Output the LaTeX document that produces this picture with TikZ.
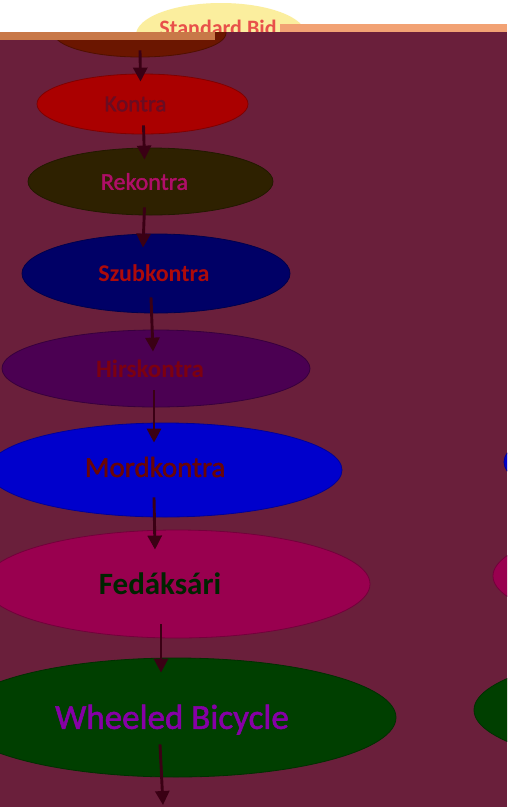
\documentclass[tikz,border=0pt]{standalone}
\usepackage{fontspec}
\setmainfont{Carlito}
\newfontfamily\semibold{Carlito}[FakeBold=1.6]
\usetikzlibrary{arrows.meta, shapes.geometric, positioning}
\definecolor{bgMaroon}{HTML}{6A1F3B}
\definecolor{bidYellow}{HTML}{FBEE9E}
\definecolor{bidRed}{HTML}{E8504A}
\definecolor{bandOrange}{HTML}{C87848}
\definecolor{bandPeach}{HTML}{F2A274}
\definecolor{topBrown}{HTML}{6B1600}
\definecolor{kontraRed}{HTML}{AA0000}
\definecolor{rekOlive}{HTML}{2E2100}
\definecolor{szubNavy}{HTML}{000066}
\definecolor{hirsPurple}{HTML}{4B0052}
\definecolor{mordBlue}{HTML}{0000CC}
\definecolor{fedMagenta}{HTML}{99004F}
\definecolor{wheelGreen}{HTML}{003F00}
\definecolor{arrowDark}{HTML}{3A0014}
\definecolor{kontraTxt}{HTML}{6A0C22}
\definecolor{rekTxt}{HTML}{B00E68}
\definecolor{szubTxt}{HTML}{AE0A0A}
\definecolor{hirsTxt}{HTML}{7C0010}
\definecolor{mordTxt}{HTML}{6A0606}
\definecolor{fedTxt}{HTML}{002400}
\definecolor{wheelTxt}{HTML}{8600A6}
\tikzset{
  % one ellipse per bid level, fill colour as argument
  bubble/.style     = {ellipse, fill=#1, draw=#1!75!black, line width=0.8pt, inner sep=0pt},
  esize/.style 2 args = {minimum width=#1pt, minimum height=#2pt},
  lbl/.style        = {font=\fontsize{#1}{#1}\selectfont\semibold},
  blbl/.style       = {font=\fontsize{#1}{#1}\selectfont\bfseries},
  flow/.style       = {-{Triangle[length=14pt, width=14pt]}, arrowDark, line width=2.9pt},
}

\begin{document}
\begin{tikzpicture}[x=1pt, y=-1pt]
  \useasboundingbox (0,0) rectangle (507,807);
  \clip (0,0) rectangle (507,807);
  % top strip
  \fill[white] (0,0) rectangle (507,32);
  \node[bubble=bidYellow, draw=none, esize={170}{64},
        label={[blbl=22, text=bidRed, yshift=7pt, xshift=-3pt]center:Standard Bid}] (bid) at (221,35) {};
  \fill[bandPeach] (280,24) rectangle (507,32);
  \fill[bgMaroon] (0,32) rectangle (507,807);
  \begin{scope}
    \clip (0,32) rectangle (507,80);
    \node[bubble=topBrown, esize={172}{48}] (top) at (140,33) {};
  \end{scope}
  \fill[bandOrange] (0,32) rectangle (215,40);
  % left column
  \node[bubble=kontraRed, esize={211}{60},
        label={[lbl=23, text=kontraTxt, xshift=-7pt]center:Kontra}] (kontra) at (142.5,104) {};
  \node[bubble=rekOlive, esize={245}{67},
        label={[lbl=24, text=rekTxt, xshift=-6pt]center:Rekontra}] (rek) at (150.5,181.5) {};
  \node[bubble=szubNavy, esize={268}{79},
        label={[blbl=24, text=szubTxt, xshift=-2pt]center:Szubkontra}] (szub) at (156,273.5) {};
  \node[bubble=hirsPurple, esize={308}{77},
        label={[blbl=25, text=hirsTxt, xshift=-6pt]center:Hirskontra}] (hirs) at (156,368.5) {};
  \node[bubble=mordBlue, esize={354}{94},
        label={[lbl=29, text=mordTxt, xshift=-10pt, yshift=3pt]center:Mordkontra}] (mord) at (165,470) {};
  \node[bubble=fedMagenta, esize={386}{108},
        label={[blbl=31, text=fedTxt, xshift=-17pt]center:Fedáksári}] (fed) at (177,584) {};
  \node[bubble=wheelGreen, esize={440}{119},
        label={[lbl=35, text=wheelTxt, xshift=-4pt, yshift=-2pt]center:Wheeled Bicycle}] (wheel) at (176,717.5) {};
  \coordinate (end) at (163,805);
  % right column, mostly off the page
  \node[bubble=mordBlue, esize={354}{94}] (mordR) at (681,462) {};
  \node[bubble=fedMagenta, esize={386}{108}] (fedR) at (686,576) {};
  \node[bubble=wheelGreen, esize={440}{119}] (wheelR) at (694,710) {};
  % arrows down the chain
  \draw[flow] ([yshift=7pt]top.south) -- ([xshift=-2pt, yshift=-8pt]kontra.north);
  \draw[flow] ([xshift=1pt, yshift=9pt]kontra.south) -- ([xshift=-6pt, yshift=-12pt]rek.north);
  \draw[flow] ([xshift=-6pt, yshift=8pt]rek.south) -- ([xshift=-13pt, yshift=-14pt]szub.north);
  \draw[flow] ([xshift=-5pt, yshift=16pt]szub.south) -- ([xshift=-3pt, yshift=-22pt]hirs.north);
  \draw[flow] ([xshift=-2pt, yshift=17pt]hirs.south) -- ([xshift=-11pt, yshift=-20pt]mord.north);
  \draw[flow] ([xshift=-11pt, yshift=20pt]mord.south) -- ([xshift=-22pt, yshift=-20pt]fed.north);
  \draw[flow] ([xshift=-16pt, yshift=14pt]fed.south) -- ([xshift=-15pt, yshift=-15pt]wheel.north);
  \draw[flow] ([xshift=-16pt, yshift=33pt]wheel.south) -- (end);
\end{tikzpicture}
\end{document}
